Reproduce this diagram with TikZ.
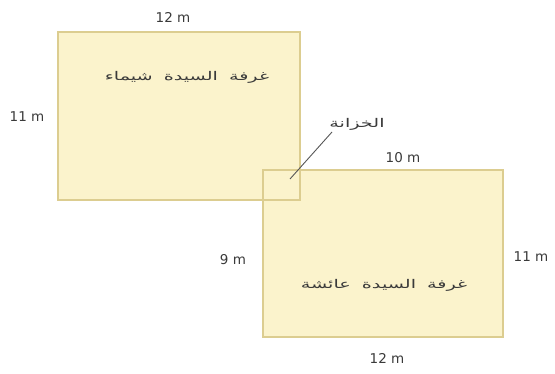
\documentclass[tikz,border=0pt]{standalone}
\usepackage{fontspec}
\setmainfont{DejaVu Sans}
\newfontfamily\arabicfont[Script=Arabic,FakeStretch=1.6,WordSpace=1.8]{DejaVu Sans}
\TeXXeTstate=1
\definecolor{roomfill}{HTML}{FBF3CC}
\definecolor{roomline}{HTML}{DCCD90}
\definecolor{txt}{HTML}{3A3A3A}
\begin{document}
\begin{tikzpicture}[x=1pt,y=-1pt,
  dim/.style={font=\fontsize{13.5}{14}\selectfont,text=txt,inner sep=1pt},
  rname/.style={font=\arabicfont\fontsize{12}{13}\selectfont,text=txt,inner sep=1pt},
  roomfillst/.style={fill=roomfill,draw=none},
  roomedge/.style={draw=roomline,line width=1.5pt}]
\useasboundingbox (0,0) rectangle (555,374);
\fill[white] (0,0) rectangle (555,374);
% rooms
\path[roomfillst] (58,32) rectangle (300,200);
\path[roomfillst] (263,170) rectangle (503,337);
\draw[roomedge] (58,32) rectangle (300,200);
\draw[roomedge] (263,170) rectangle (503,337);
% room names
\node[rname] (n1) at (187,77) {\beginR غرفة السيدة شيماء\endR};
\node[rname] (n2) at (384,285) {\beginR غرفة السيدة عائشة\endR};
% dimensions
\node[dim] (d1) at (173,17) {12 m};
\node[dim] (d2) at (27,117) {11 m};
\node[dim] (d3) at (403,158) {10 m};
\node[dim] (d4) at (233,260) {9 m};
\node[dim] (d5) at (531,257) {11 m};
\node[dim] (d6) at (387,358) {12 m};
% closet
\node[rname] (cl) at (357,124) {\beginR الخزانة\endR};
\coordinate (cp) at (290,179);
\coordinate (ce) at (332,132);
\draw[txt!85,line width=0.9pt] (cp) -- (ce);
\end{tikzpicture}
\end{document}
